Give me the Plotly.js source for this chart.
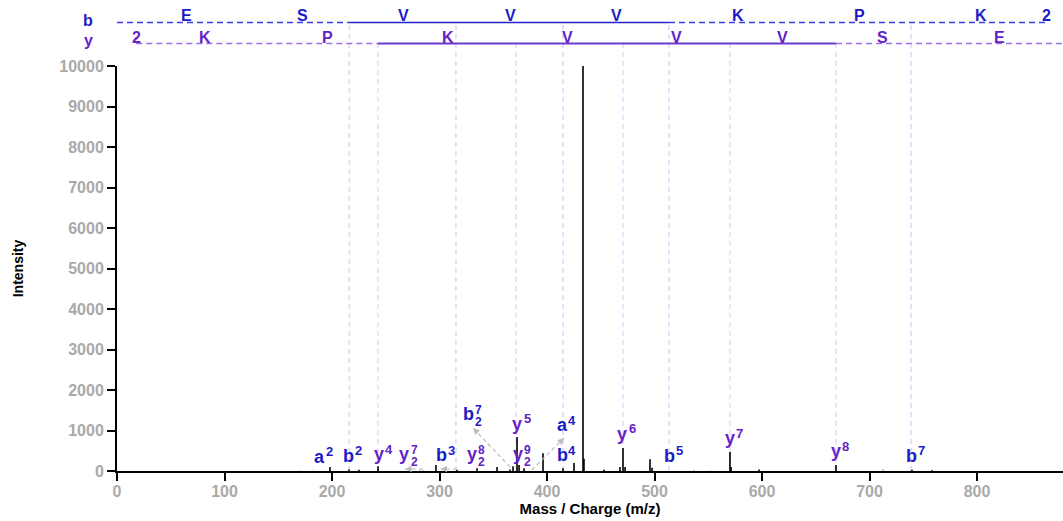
<!DOCTYPE html>
<html><head><meta charset="utf-8">
<script src="https://cdn.plot.ly/plotly-3.0.1.min.js"></script>
<style>html,body{margin:0;padding:0;background:#fff}#chart{width:1063px;height:521px}</style>
</head><body><div id="chart"></div>
<script>
// ---- data ----
const peakMz  = [198.1, 215.8, 225.1, 242.8, 296.7, 316.3, 334.9, 353.5, 365.6, 368.4, 372.1, 374.0, 378.6, 396.3, 414.9, 425.1, 433.5, 434.4, 453.0, 467.9, 470.7, 472.6, 495.8, 497.7, 570.2, 571.2, 597.2, 668.8, 739.5, 758.0];
const peakInt = [100, 40, 30, 120, 150, 30, 70, 100, 40, 120, 840, 150, 70, 440, 70, 200, 10000, 300, 30, 100, 570, 100, 290, 80, 470, 100, 40, 150, 30, 20];
const minorMz  = [170.2, 182.3, 281.9, 284.7, 536.7, 551.6, 712.6];
const minorInt = [20, 15, 30, 25, 30, 20, 50];

const bSeq   = ['E','S','V','V','V','K','P','K','2'];
const bSeqMz = [65, 173, 266.5, 365.6, 464.8, 578, 690.5, 803.5, 865];
const ySeq   = ['2','K','P','K','V','V','V','S','E'];
const ySeqMz = [18, 82, 195.5, 308, 419, 520.5, 619.5, 712.5, 820.5];
const bMatch = [216.0, 315.3, 414.9, 513.5, 738.6];
const yMatch = [242.8, 371.2, 470.7, 570.2, 668.8];

const labelIon = ['a','b','y','y','b','y','b','y','y','a','b','y','b','y','y','b','b'];
const labelSup = ['2','2','4','7','3','8','7','5','9','4','4','6','5','7','8','7','8'];
const labelSub = ['', '', '', '2','', '2','2','', '2','', '', '', '', '', '', '', '2'];
const labelMz  = [188, 215.8, 243.3, 271.6, 301.4, 334, 330.7, 372.1, 377.2, 414.4, 414.4, 470.2, 513.5, 570.2, 668.8, 739.5, 434];
const labelInt = [173, 198, 247, 247, 222, 247, 1235, 988, 247, 963, 222, 741, 198, 642, 321, 198, 10222];

const arrowFromMz  = [284.7, 316.3, 365.6, 386.0];
const arrowFromInt = [50, 50, 100, 25];
const arrowToMz    = [268.0, 301.0, 331.2, 415.8];
const arrowToInt   = [50, 50, 1060, 815];

// ---- styling ----
const FONT = 'Liberation Sans, Arial, Helvetica, sans-serif';
const BLUE = '#1c1cc6';
const PURPLE = '#6422c8';
const X_MAX = 880, Y_MAX = 10000;
const M = {l:117, r:0, t:66, b:50};
const PW = 1063 - M.l - M.r, PH = 521 - M.t - M.b;

function stems(xs, ys){
  const X = [], Y = [];
  xs.forEach((x,i)=>{ X.push(x,x,null); Y.push(0,ys[i],null); });
  return {X, Y};
}
const main = stems(peakMz, peakInt);
const minor = stems(minorMz, minorInt);

const traces = [
  {x: minor.X, y: minor.Y, type:'scatter', mode:'lines', line:{color:'#bdbdbd', width:1.5}, hoverinfo:'skip', showlegend:false},
  {x: main.X, y: main.Y, type:'scatter', mode:'lines', line:{color:'#000', width:1.6}, hoverinfo:'skip', showlegend:false}
];

const shapes = [];
const ann = [];
const pY = px => (M.t + PH - px) / PH;   // pixel row -> paper y
const B_LINE = pY(22.5), B_TXT = pY(15.5), Y_LINE = pY(43.5), Y_TXT = pY(37);

// vertical match lines
bMatch.forEach(m => shapes.push({type:'line', xref:'x', yref:'paper', x0:m, x1:m, y0:0, y1:B_LINE, line:{color:'#c6c2fa', width:1, dash:'5px,4px'}, layer:'below'}));
yMatch.forEach(m => shapes.push({type:'line', xref:'x', yref:'paper', x0:m, x1:m, y0:0, y1:Y_LINE, line:{color:'#d9c6fa', width:1, dash:'5px,4px'}, layer:'below'}));

function hline(x0, x1, y, color, dash, w){
  shapes.push({type:'line', xref:'x', yref:'paper', x0, x1, y0:y, y1:y, line:{color, width:w, dash}});
}
hline(0, bMatch[0], B_LINE, '#3b3be0', '6px,4px', 1.3);
hline(bMatch[0], bMatch[3], B_LINE, '#2323c8', 'solid', 1.6);
hline(bMatch[3], bSeqMz[bSeqMz.length-1], B_LINE, '#3b3be0', '6px,4px', 1.3);
hline(ySeqMz[0], yMatch[0], Y_LINE, '#9a70e2', '6px,4px', 1.3);
hline(yMatch[0], yMatch[4], Y_LINE, '#6b3ccd', 'solid', 1.8);
hline(yMatch[4], X_MAX, Y_LINE, '#9a70e2', '6px,4px', 1.3);

bSeq.forEach((s,i)=> ann.push({x:bSeqMz[i], y:B_TXT, xref:'x', yref:'paper', text:s, showarrow:false, xanchor:'center', yanchor:'middle', font:{family:FONT, size:16, color:BLUE, weight:'bold'}}));
ySeq.forEach((s,i)=> ann.push({x:ySeqMz[i], y:Y_TXT, xref:'x', yref:'paper', text:s, showarrow:false, xanchor:'center', yanchor:'middle', font:{family:FONT, size:16, color:PURPLE, weight:'bold'}}));
ann.push({x:(88-M.l)/PW, y:pY(21), xref:'paper', yref:'paper', text:'b', showarrow:false, xanchor:'center', yanchor:'middle', font:{family:FONT, size:16, color:BLUE, weight:'bold'}});
ann.push({x:(88-M.l)/PW, y:pY(41), xref:'paper', yref:'paper', text:'y', showarrow:false, xanchor:'center', yanchor:'middle', font:{family:FONT, size:16, color:PURPLE, weight:'bold'}});

// peak labels
labelIon.forEach((ion,i)=>{
  const color = ion === 'y' ? PURPLE : BLUE;
  const stacked = labelSub[i] !== '';
  const base = {x:labelMz[i], y:labelInt[i], xref:'x', yref:'y', showarrow:false, xanchor:'center'};
  ann.push(Object.assign({}, base, {text:ion, yanchor:'bottom', xshift: stacked ? -4.5 : 0, yshift:-5, font:{family:FONT, size:18, color, weight:'bold'}}));
  if (stacked) {
    ann.push(Object.assign({}, base, {text:labelSup[i], yanchor:'middle', xshift:5.5, yshift:11, font:{family:FONT, size:12, color, weight:'bold'}}));
    ann.push(Object.assign({}, base, {text:labelSub[i], yanchor:'middle', xshift:5.5, yshift:-1, font:{family:FONT, size:12, color, weight:'bold'}}));
  } else {
    ann.push(Object.assign({}, base, {text:labelSup[i], yanchor:'middle', xshift:10, yshift:12, font:{family:FONT, size:13, color, weight:'bold'}}));
  }
});

// dashed arrows from peaks to relocated labels
arrowFromMz.forEach((fx,i)=>{
  const tx = arrowToMz[i], ty = arrowToInt[i], fy = arrowFromInt[i];
  shapes.push({type:'line', xref:'x', yref:'y', x0:fx, y0:fy, x1:tx, y1:ty, line:{color:'#bdbdbd', width:1.2, dash:'4px,3px'}});
  const dx = (fx - tx) * PW / X_MAX, dy = (fy - ty) * PH / Y_MAX;
  const L = Math.hypot(dx, dy);
  ann.push({x:tx, y:ty, xref:'x', yref:'y', text:' ', showarrow:true, arrowhead:2, arrowsize:1.3, arrowwidth:1, arrowcolor:'#bdbdbd', standoff:0, ax: dx/L*9, ay: -dy/L*9});
});

const tickFont = {family:FONT, size:16, color:'#a9a9a9', weight:'bold'};
const layout = {
  width:1063, height:521, margin:M,
  paper_bgcolor:'#fff', plot_bgcolor:'#fff',
  showlegend:false,
  xaxis:{range:[0, X_MAX], tickvals:[0,100,200,300,400,500,600,700,800], showgrid:false, zeroline:false,
         showline:true, linecolor:'#000', linewidth:2, ticks:'outside', ticklen:8, tickwidth:2, tickcolor:'#000',
         ticklabelstandoff:-3,
         tickfont:tickFont, title:{text:'Mass / Charge (m/z)', font:{family:FONT, size:15, color:'#000', weight:'bold'}, standoff:0}},
  yaxis:{range:[0, Y_MAX], dtick:1000, tickformat:'d', showgrid:false, zeroline:false,
         showline:true, linecolor:'#000', linewidth:2, ticks:'outside', ticklen:8, tickwidth:2, tickcolor:'#000',
         tickfont:tickFont, title:{text:'Intensity', font:{family:FONT, size:14, color:'#000', weight:'bold'}, standoff:32}},
  shapes, annotations:ann
};
Plotly.newPlot('chart', traces, layout, {staticPlot:true, displayModeBar:false});
</script></body></html>
